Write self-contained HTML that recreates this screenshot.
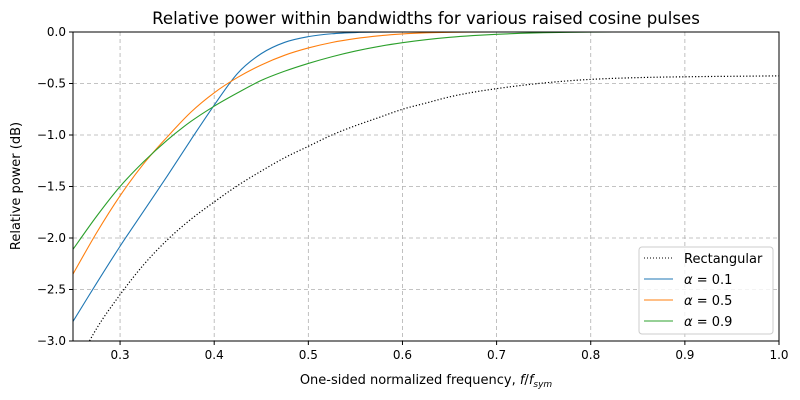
<!DOCTYPE html>
<html><head><meta charset="utf-8"><style>
body{margin:0;background:#fff}
svg{display:block;font-family:"DejaVu Sans","Liberation Sans",sans-serif}
</style></head><body>
<svg id="chart" width="800" height="400">
<defs><clipPath id="clip"><rect x="73" y="32" width="706" height="309"/></clipPath></defs>
<rect width="800" height="400" fill="#fff"/>
<g id="grid"></g>
<g id="series" clip-path="url(#clip)"></g>
<rect x="73" y="32" width="706" height="309" fill="none" stroke="#000" stroke-width="1"/>
<g id="ticks"></g>
<text x="426" y="24" text-anchor="middle" font-size="16.6">Relative power within bandwidths for various raised cosine pulses</text>
<text x="426" y="384" text-anchor="middle" font-size="13">One-sided normalized frequency, <tspan font-style="italic">f</tspan>/<tspan font-style="italic">f</tspan><tspan font-style="italic" font-size="9" dy="3">sym</tspan></text>
<text transform="translate(20,186) rotate(-90)" text-anchor="middle" font-size="13">Relative power (dB)</text>
<g>
<rect x="639" y="247" width="134" height="87" rx="3" fill="#fff" fill-opacity="0.8" stroke="#ccc"/>
<line x1="644" y1="258" x2="673" y2="258" stroke="#000" stroke-dasharray="1,2"/>
<text x="684" y="263" font-size="13">Rectangular</text>
<line x1="644" y1="279" x2="673" y2="279" stroke="#1f77b4"/>
<text x="684" y="284" font-size="13"><tspan font-style="italic">α</tspan> = 0.1</text>
<line x1="644" y1="300" x2="673" y2="300" stroke="#ff7f0e"/>
<text x="684" y="305" font-size="13"><tspan font-style="italic">α</tspan> = 0.5</text>
<line x1="644" y1="321" x2="673" y2="321" stroke="#2ca02c"/>
<text x="684" y="326" font-size="13"><tspan font-style="italic">α</tspan> = 0.9</text>
</g>
</svg>
<script>
const xTicks=[0.3,0.4,0.5,0.6,0.7,0.8,0.9,1.0];
const xTickLabels=["0.3","0.4","0.5","0.6","0.7","0.8","0.9","1.0"];
const yTicks=[0,-0.5,-1,-1.5,-2,-2.5,-3];
const yTickLabels=["0.0","−0.5","−1.0","−1.5","−2.0","−2.5","−3.0"];
const freqs=[0.25,0.275,0.3,0.325,0.35,0.375,0.4,0.425,0.45,0.475,0.5,0.525,0.55,0.575,0.6,0.625,0.65,0.675,0.7,0.725,0.75,0.775,0.8,0.825,0.85,0.875,0.9,0.925,0.95,0.975,1.0];
const rectangular=[-3.3,-2.88,-2.55,-2.26,-2.02,-1.82,-1.65,-1.49,-1.35,-1.22,-1.11,-1.0,-0.91,-0.83,-0.75,-0.69,-0.63,-0.585,-0.55,-0.52,-0.495,-0.475,-0.46,-0.45,-0.443,-0.438,-0.435,-0.432,-0.43,-0.428,-0.426];
const alpha01=[-2.81,-2.44,-2.08,-1.74,-1.4,-1.05,-0.71,-0.4,-0.21,-0.1,-0.045,-0.017,-0.005,-0.001,0,0,0,0,0,0,0,0,0,0,0,0,0,0,0,0,0];
const alpha05=[-2.35,-1.95,-1.59,-1.28,-1.02,-0.78,-0.59,-0.44,-0.32,-0.225,-0.155,-0.102,-0.064,-0.037,-0.019,-0.008,-0.003,-0.001,0,0,0,0,0,0,0,0,0,0,0,0,0];
const alpha09=[-2.11,-1.79,-1.5,-1.26,-1.05,-0.87,-0.72,-0.59,-0.47,-0.38,-0.305,-0.24,-0.185,-0.14,-0.104,-0.075,-0.052,-0.035,-0.022,-0.013,-0.007,-0.003,-0.001,0,0,0,0,0,0,0,0];
const X0=73,X1=779,Y0=32,Y1=341;
function sx(v){return X0+(v-0.25)/(1-0.25)*(X1-X0);}
function sy(v){return Y0+(0-v)/3*(Y1-Y0);}
const NS="http://www.w3.org/2000/svg";
const grid=document.getElementById('grid'),ticks=document.getElementById('ticks'),ser=document.getElementById('series');
function mk(tag,attrs,parent){const e=document.createElementNS(NS,tag);for(const k in attrs)e.setAttribute(k,attrs[k]);parent.appendChild(e);return e;}
xTicks.forEach((t,i)=>{
  const x=sx(t);
  const g=mk('line',{x1:x,x2:x,y1:Y0,y2:Y1,stroke:'#b0b0b0','stroke-dasharray':'4,3','stroke-width':0.8},grid);
  
  
  const tk=mk('line',{x1:x,x2:x,y1:Y1,y2:Y1+4,stroke:'#000'},ticks);
  
  
  const tx=mk('text',{x:x,y:Y1+18,'text-anchor':'middle','font-size':12},ticks);
  tx.textContent=xTickLabels[i];
  
  
});
yTicks.forEach((t,i)=>{
  const y=sy(t);
  const g=mk('line',{x1:X0,x2:X1,y1:y,y2:y,stroke:'#b0b0b0','stroke-dasharray':'4,3','stroke-width':0.8},grid);
  
  
  const tk=mk('line',{x1:X0-4,x2:X0,y1:y,y2:y,stroke:'#000'},ticks);
  
  
  const tx=mk('text',{x:X0-7,y:y+4,'text-anchor':'end','font-size':12},ticks);
  tx.textContent=yTickLabels[i];
  
  
});
function path(vals){
  const p=freqs.map((f,i)=>[sx(f),sy(vals[i])]);
  let d='M'+p[0][0]+','+p[0][1];
  for(let i=0;i<p.length-1;i++){
    const p0=p[Math.max(i-1,0)],p1=p[i],p2=p[i+1],p3=p[Math.min(i+2,p.length-1)];
    const c1=[p1[0]+(p2[0]-p0[0])/6,p1[1]+(p2[1]-p0[1])/6];
    const c2=[p2[0]-(p3[0]-p1[0])/6,p2[1]-(p3[1]-p1[1])/6];
    d+=' C'+c1+' '+c2+' '+p2;
  }
  return d;
}
const r=mk('path',{d:path(rectangular),fill:'none',stroke:'#000','stroke-width':1.2,'stroke-dasharray':'1.2,2'},ser);


const a1=mk('path',{d:path(alpha01),fill:'none',stroke:'#1f77b4','stroke-width':1.1},ser);


const a5=mk('path',{d:path(alpha05),fill:'none',stroke:'#ff7f0e','stroke-width':1.1},ser);


const a9=mk('path',{d:path(alpha09),fill:'none',stroke:'#2ca02c','stroke-width':1.1},ser);


</script>
</body></html>
